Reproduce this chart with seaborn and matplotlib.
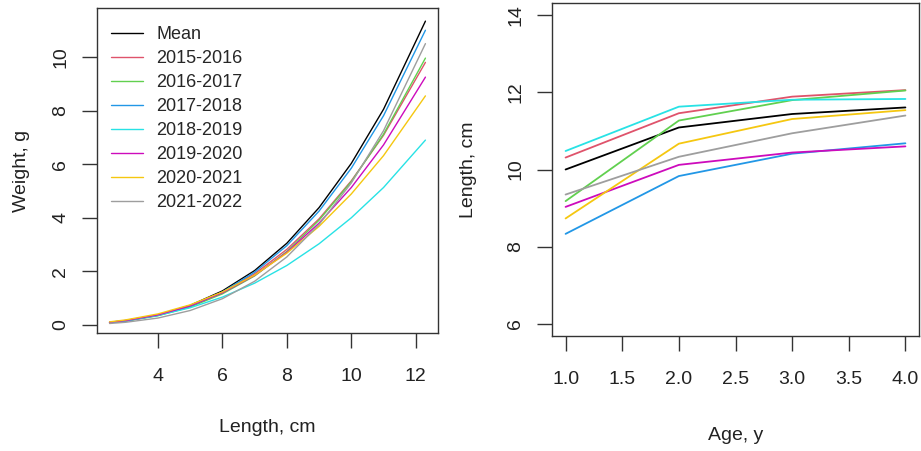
import matplotlib
matplotlib.use("Agg")
import matplotlib.pyplot as plt
import seaborn as sns
import pandas as pd

# ---------------- data ----------------
length_cm = [2.5, 3, 4, 5, 6, 7, 8, 9, 10, 11, 12.3]
w_mean = [0.088, 0.153, 0.369, 0.729, 1.27, 2.03, 3.05, 4.38, 6.03, 8.05, 11.34]
w_1516 = [0.097, 0.164, 0.377, 0.720, 1.22, 1.91, 2.82, 3.96, 5.38, 7.08, 9.80]
w_1617 = [0.084, 0.145, 0.343, 0.669, 1.16, 1.83, 2.74, 3.91, 5.35, 7.12, 9.96]
w_1718 = [0.085, 0.149, 0.358, 0.707, 1.23, 1.97, 2.96, 4.25, 5.85, 7.81, 11.00]
w_1819 = [0.103, 0.166, 0.356, 0.641, 1.04, 1.56, 2.22, 3.03, 4.00, 5.13, 6.90]
w_1920 = [0.099, 0.166, 0.376, 0.711, 1.20, 1.85, 2.71, 3.80, 5.13, 6.72, 9.25]
w_2021 = [0.116, 0.189, 0.412, 0.752, 1.23, 1.86, 2.68, 3.68, 4.89, 6.32, 8.55]
w_2122 = [0.055, 0.100, 0.258, 0.539, 0.98, 1.63, 2.54, 3.75, 5.30, 7.25, 10.50]

age_y = [1, 2, 3, 4]
l_mean = [10.00, 11.09, 11.44, 11.61]
l_1516 = [10.31, 11.46, 11.89, 12.06]
l_1617 = [9.18, 11.27, 11.80, 12.05]
l_1718 = [8.33, 9.83, 10.41, 10.68]
l_1819 = [10.48, 11.63, 11.81, 11.83]
l_1920 = [9.03, 10.12, 10.44, 10.60]
l_2021 = [8.73, 10.67, 11.31, 11.54]
l_2122 = [9.35, 10.33, 10.94, 11.40]

series_names = ["Mean", "2015-2016", "2016-2017", "2017-2018", "2018-2019",
                "2019-2020", "2020-2021", "2021-2022"]
weights = [w_mean, w_1516, w_1617, w_1718, w_1819, w_1920, w_2021, w_2122]
lengths = [l_mean, l_1516, l_1617, l_1718, l_1819, l_1920, l_2021, l_2122]

colors = ["#000000", "#DF536B", "#61D04F", "#2297E6", "#28E2E5",
          "#CD0BBC", "#F5C710", "#9E9E9E"]
palette = dict(zip(series_names, colors))

df_w = pd.DataFrame([(n, x, y) for n, ys in zip(series_names, weights)
                     for x, y in zip(length_cm, ys)],
                    columns=["series", "length", "weight"])
df_l = pd.DataFrame([(n, x, y) for n, ys in zip(series_names, lengths)
                     for x, y in zip(age_y, ys)],
                    columns=["series", "age", "length"])

# ---------------- style ----------------
sns.set_style("ticks")
plt.rcParams["font.family"] = ["Liberation Sans", "DejaVu Sans"]
FS = 14

fig = plt.figure(figsize=(9.21, 4.51), dpi=100)
W, H = 921, 451
ax1 = fig.add_axes([97 / W, 1 - 333 / H, (438 - 97) / W, (333 - 8) / H])
ax2 = fig.add_axes([552 / W, 1 - 336 / H, (919 - 552) / W, (336 - 3) / H])

sns.lineplot(data=df_w, x="length", y="weight", hue="series",
             hue_order=series_names, palette=palette, estimator=None,
             sort=False, linewidth=1.0, ax=ax1)
sns.lineplot(data=df_l, x="age", y="length", hue="series",
             hue_order=series_names, palette=palette, estimator=None,
             sort=False, linewidth=1.3, ax=ax2, legend=False)

# left axes
ax1.set_xlim(2.11, 12.69)
ax1.set_ylim(-0.3, 11.83)
ax1.set_xticks([4, 6, 8, 10, 12])
ax1.set_yticks([0, 2, 4, 6, 8, 10])
ax1.set_xlabel("Length, cm", fontsize=FS)
ax1.set_ylabel("Weight, g", fontsize=FS)

# right axes
ax2.set_xlim(0.88, 4.12)
ax2.set_ylim(5.68, 14.32)
ax2.set_xticks([1.0, 1.5, 2.0, 2.5, 3.0, 3.5, 4.0])
ax2.set_xticklabels(["1.0", "1.5", "2.0", "2.5", "3.0", "3.5", "4.0"])
ax2.set_yticks([6, 8, 10, 12, 14])
ax2.set_xlabel("Age, y", fontsize=FS)
ax2.set_ylabel("Length, cm", fontsize=FS)

for ax in (ax1, ax2):
    for sp in ax.spines.values():
        sp.set_visible(True)
        sp.set_color("#333333")
        sp.set_linewidth(1.0)
    ax.tick_params(axis="both", direction="out", length=11, width=1.0,
                   color="#333333", labelsize=FS, labelcolor="#222222")
    ax.tick_params(axis="x", pad=14)
    ax.tick_params(axis="y", pad=9, labelrotation=90)
    for lab in ax.get_yticklabels():
        lab.set_va("center")
    ax.xaxis.label.set_color("#222222")
    ax.yaxis.label.set_color("#222222")

# axis label placement
ax1.xaxis.set_label_coords(0.5, (333 - 428) / 325)
ax1.xaxis.label.set_va("center")
ax1.yaxis.set_label_coords((22 - 97) / 341, 0.5)
ax1.yaxis.label.set_va("center")
ax2.xaxis.set_label_coords(0.5, (336 - 435) / 333)
ax2.xaxis.label.set_va("center")
ax2.yaxis.set_label_coords((468 - 552) / 367, 0.5)
ax2.yaxis.label.set_va("center")

# legend
handles, labels = ax1.get_legend_handles_labels()
ax1.legend(handles, labels, loc="upper left",
           bbox_to_anchor=(111 / W, 1 - 26 / H), bbox_transform=fig.transFigure,
           frameon=False, fontsize=13, handlelength=1.75, handletextpad=0.75,
           labelspacing=0.39, borderpad=0, borderaxespad=0)

fig.savefig("out.png", dpi=100)
